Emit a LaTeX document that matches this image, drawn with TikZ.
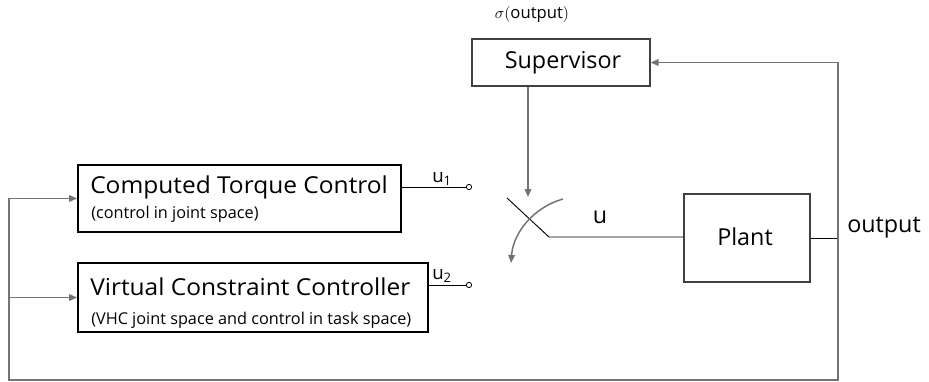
\documentclass[tikz,border=0pt]{standalone}
\usepackage{fontspec}
\setmainfont{Open Sans}
\usetikzlibrary{arrows.meta}
\begin{document}
\begin{tikzpicture}[x=0.75pt,y=-0.75pt,
  blk/.style={draw=black,line width=1.4pt,inner sep=0pt},
  lbox/.style={draw=black!75,line width=0.9pt,inner sep=0pt},
  conn/.style={draw=black!55,line width=1.1pt},
  thin/.style={draw=black,line width=0.7pt},
  tip/.style={-{Triangle[length=6pt,width=5pt]}},
  big/.style={font=\fontsize{17.5}{20}\selectfont,inner sep=0pt},
  small/.style={font=\fontsize{12.2}{14}\selectfont,inner sep=0pt},
  term/.style={circle,draw=black,line width=0.6pt,inner sep=0pt,minimum size=4pt}]
\useasboundingbox (0,0) rectangle (929,382);
% boxes
\node[blk,minimum width=242.25pt,minimum height=50.25pt] (ctc) at (239.5,198.5) {};
\node[blk,minimum width=262.5pt,minimum height=51.75pt] (vcc) at (253,297.5) {};
\node[lbox,minimum width=133.5pt,minimum height=35.25pt] (sup) at (561,62.5) {};
\node[lbox,minimum width=94.5pt,minimum height=66pt] (plant) at (747,238) {};
% texts
\node[big,anchor=west,xscale=1.05] (t1) at (90,187) {Computed Torque Control};
\node[small,anchor=west] (s1) at (91,214) {(control in joint space)};
\node[big,anchor=west,xscale=1.05] (t2) at (90,287) {Virtual Constraint Controller};
\node[small,anchor=west] (s2) at (91,320) {(VHC joint space and control in task space)};
\node[big] (tsup) at (563,63) {Supervisor};
\node[big] (tpl) at (745,237) {Plant};
\node[big,anchor=west] (tout) at (847,228) {output};
\node[big] (tu) at (600,217) {u};
\node[inner sep=0pt,font=\fontsize{12.5}{15}\selectfont] (sig) at (532,15) {$\sigma(\mathrm{output})$};
\node[inner sep=0pt,anchor=west,font=\fontsize{14}{16}\selectfont] (tu1) at (432,179) {u\textsubscript{1}};
\node[inner sep=0pt,anchor=west,font=\fontsize{14}{16}\selectfont] (tu2) at (432,276) {u\textsubscript{2}};
% terminals
\node[term] (c1) at (469,187) {};
\node[term] (c2) at (469,285) {};
\draw[thin] (ctc.east |- c1) -- (c1);
\draw[thin] (vcc.east |- c2) -- (c2);
% switch
\coordinate (sa) at (507,198);
\coordinate (sb) at (549,237);
\coordinate (stip) at (528,197);
\draw[thin] (sa) -- (sb) -- (plant.west |- sb);
\draw[conn,tip] (sup.south -| stip) -- (stip);
\draw[conn,tip] (563,199) arc[start angle=-105.5,end angle=-176.4,radius=71];
% feedback
\coordinate (j) at (838,238);
\coordinate (bl) at (9,380);
\draw[thin] (plant.east) -- (j);
\draw[conn,tip] (j) |- (sup.east);
\draw[conn,tip] (j) |- (bl) |- (ctc.west);
\draw[conn,tip] (bl |- vcc.west) -- (vcc.west);
\end{tikzpicture}
\end{document}
